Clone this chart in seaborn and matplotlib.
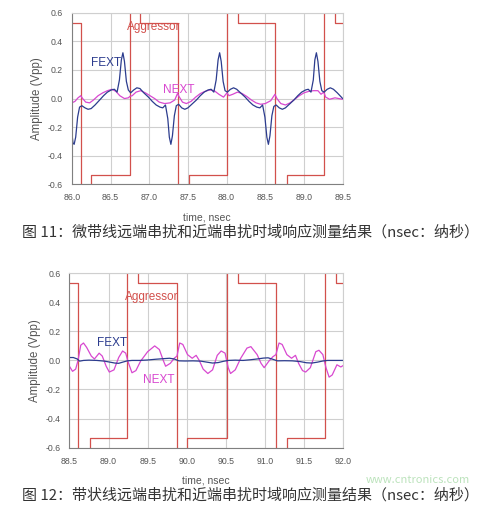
import matplotlib
matplotlib.use("Agg")
import matplotlib.pyplot as plt
import seaborn as sns
from matplotlib.ticker import MultipleLocator, FormatStrFormatter

# --- colours / fonts ---
RED = "#d2504c"
NAVY = "#2c3c8e"
MAGENTA = "#d848d0"
GRID = "#cfcfcf"
TXT = "#555555"
CJK = ["Noto Sans CJK SC", "DejaVu Sans"]

# ---------------- Fig 11 : microstrip ----------------
agg1_time = [86.0, 86.125, 86.125, 86.25, 86.25, 86.75, 86.75, 86.88, 86.88,
             87.37, 87.37, 87.51, 87.51, 88.01, 88.01, 88.15, 88.15,
             88.63, 88.63, 88.78, 88.78, 89.26, 89.26, 89.40, 89.40, 89.5]
agg1_amp = [0.53, 0.53, -0.9, -0.9, -0.535, -0.535, 0.9, 0.9, 0.53,
            0.53, -0.9, -0.9, -0.535, -0.535, 0.9, 0.9, 0.53,
            0.53, -0.9, -0.9, -0.535, -0.535, 0.9, 0.9, 0.53, 0.53]

fext1_time = [86.00, 86.015, 86.03, 86.05, 86.075, 86.10, 86.13, 86.17, 86.21, 86.25,
              86.30, 86.36, 86.41, 86.46, 86.51, 86.55, 86.585, 86.615, 86.64, 86.66,
              86.68, 86.705, 86.73, 86.76, 86.80, 86.84, 86.88, 86.93, 86.99, 87.04,
              87.09, 87.14, 87.175, 87.21, 87.24, 87.26, 87.28, 87.30, 87.325, 87.35,
              87.38, 87.42, 87.46, 87.50, 87.55, 87.61, 87.66, 87.71, 87.76, 87.80,
              87.835, 87.865, 87.89, 87.91, 87.93, 87.955, 87.98, 88.01, 88.05, 88.09,
              88.13, 88.18, 88.24, 88.29, 88.34, 88.39, 88.43, 88.465, 88.495, 88.52,
              88.54, 88.56, 88.585, 88.61, 88.64, 88.68, 88.72, 88.76, 88.81, 88.87,
              88.92, 88.97, 89.02, 89.055, 89.09, 89.12, 89.14, 89.16, 89.18, 89.205,
              89.23, 89.26, 89.30, 89.34, 89.38, 89.43, 89.50]
fext1_amp = [-0.24, -0.31, -0.32, -0.27, -0.13, -0.06, -0.05, -0.065, -0.075, -0.07,
             -0.045, -0.01, 0.02, 0.045, 0.06, 0.065, 0.045, 0.13, 0.27, 0.32,
             0.26, 0.12, 0.06, 0.04, 0.06, 0.075, 0.07, 0.04, 0.01, -0.02,
             -0.045, -0.06, -0.065, -0.045, -0.14, -0.27, -0.32, -0.26, -0.12, -0.05,
             -0.04, -0.065, -0.075, -0.065, -0.04, -0.01, 0.02, 0.045, 0.06, 0.065,
             0.045, 0.13, 0.27, 0.32, 0.26, 0.12, 0.055, 0.045, 0.065, 0.075,
             0.065, 0.04, 0.01, -0.02, -0.045, -0.06, -0.065, -0.045, -0.13, -0.27,
             -0.32, -0.26, -0.12, -0.055, -0.045, -0.065, -0.075, -0.065, -0.04, -0.01,
             0.02, 0.045, 0.06, 0.065, 0.045, 0.13, 0.27, 0.32, 0.26, 0.12,
             0.055, 0.045, 0.065, 0.075, 0.065, 0.04, 0.0]

next1_time = [86.00, 86.04, 86.08, 86.115, 86.14, 86.18, 86.23, 86.28, 86.34, 86.40,
              86.46, 86.52, 86.57, 86.62, 86.68, 86.73, 86.75, 86.78, 86.83, 86.89,
              86.95, 87.01, 87.07, 87.13, 87.20, 87.27, 87.33, 87.365, 87.39, 87.43,
              87.48, 87.54, 87.60, 87.66, 87.72, 87.78, 87.84, 87.90, 87.96, 88.005,
              88.03, 88.08, 88.14, 88.20, 88.26, 88.32, 88.38, 88.44, 88.50, 88.57,
              88.625, 88.65, 88.70, 88.76, 88.82, 88.88, 88.94, 89.00, 89.06, 89.12,
              89.18, 89.22, 89.255, 89.28, 89.33, 89.40, 89.45, 89.50]
next1_amp = [-0.03, -0.02, 0.005, 0.02, 0.0, -0.025, -0.03, -0.01, 0.02, 0.04,
             0.055, 0.065, 0.05, 0.02, 0.0, 0.005, 0.015, 0.02, 0.045, 0.055,
             0.04, 0.02, 0.0, -0.025, -0.035, -0.03, -0.01, 0.035, 0.01, -0.025,
             -0.035, -0.02, 0.01, 0.035, 0.05, 0.06, 0.055, 0.03, 0.01, 0.04,
             0.02, 0.03, 0.045, 0.035, 0.015, -0.01, -0.03, -0.04, -0.035, -0.015,
             0.03, 0.0, -0.035, -0.045, -0.03, -0.005, 0.02, 0.04, 0.05, 0.055,
             0.055, 0.03, 0.045, 0.01, -0.005, 0.005, 0.0, -0.005]

# ---------------- Fig 12 : stripline ----------------
agg2_time = [88.5, 88.61, 88.61, 88.76, 88.76, 89.235, 89.235, 89.38, 89.38,
             89.875, 89.875, 90.0, 90.0, 90.51, 90.51, 90.65, 90.65,
             91.14, 91.14, 91.28, 91.28, 91.77, 91.77, 91.91, 91.91, 92.0]
agg2_amp = [0.53, 0.53, -0.9, -0.9, -0.535, -0.535, 0.9, 0.9, 0.53,
            0.53, -0.9, -0.9, -0.535, -0.535, 0.9, 0.9, 0.53,
            0.53, -0.9, -0.9, -0.535, -0.535, 0.9, 0.9, 0.53, 0.53]

fext2_time = [88.50, 88.55, 88.60, 88.63, 88.68, 88.75, 88.85, 88.95, 89.02, 89.08,
              89.13, 89.18, 89.24, 89.30, 89.40, 89.50, 89.60, 89.70, 89.78, 89.84,
              89.90, 89.98, 90.08, 90.18, 90.26, 90.33, 90.40, 90.47, 90.53, 90.62,
              90.72, 90.82, 90.90, 90.98, 91.04, 91.10, 91.16, 91.25, 91.35, 91.45,
              91.53, 91.60, 91.67, 91.74, 91.80, 91.90, 92.00]
fext2_amp = [0.02, 0.02, 0.01, -0.005, 0.0, 0.002, 0.0, -0.005, -0.012, -0.018,
             -0.02, -0.012, -0.003, 0.0, 0.0, 0.003, 0.008, 0.012, 0.015, 0.01,
             -0.003, -0.004, -0.003, -0.005, -0.012, -0.018, -0.015, -0.006, 0.0, 0.002,
             0.0, 0.005, 0.01, 0.016, 0.018, 0.008, -0.003, -0.002, -0.003, -0.008,
             -0.016, -0.018, -0.012, -0.004, 0.0, 0.0, 0.0]

next2_time = [88.50, 88.54, 88.58, 88.61, 88.645, 88.68, 88.72, 88.78, 88.82, 88.88,
              88.92, 88.97, 89.01, 89.07, 89.13, 89.18, 89.22, 89.25, 89.30, 89.35,
              89.41, 89.50, 89.59, 89.65, 89.70, 89.73, 89.79, 89.84, 89.875, 89.91,
              89.95, 90.01, 90.07, 90.12, 90.16, 90.21, 90.27, 90.33, 90.39, 90.44,
              90.49, 90.53, 90.56, 90.62, 90.69, 90.77, 90.82, 90.90, 90.95, 90.99,
              91.05, 91.10, 91.14, 91.18, 91.22, 91.28, 91.34, 91.39, 91.43, 91.48,
              91.52, 91.58, 91.65, 91.69, 91.74, 91.78, 91.82, 91.86, 91.92, 91.97, 92.00]
next2_amp = [-0.04, -0.075, -0.06, 0.0, 0.105, 0.12, 0.09, 0.03, 0.01, 0.05,
             0.03, -0.04, -0.08, -0.065, 0.02, 0.065, 0.05, -0.01, -0.085, -0.07,
             -0.005, 0.06, 0.10, 0.075, 0.0, -0.04, -0.02, 0.015, 0.03, 0.12,
             0.11, 0.04, 0.015, 0.035, 0.0, -0.06, -0.09, -0.065, 0.035, 0.065,
             0.05, -0.05, -0.09, -0.065, 0.015, 0.085, 0.095, 0.04, -0.02, -0.05,
             -0.005, 0.025, 0.04, 0.12, 0.11, 0.04, 0.015, 0.035, -0.02, -0.07,
             -0.08, -0.05, 0.06, 0.07, 0.04, -0.05, -0.115, -0.1, -0.03, -0.045, -0.035]

y_ticks = [-0.6, -0.4, -0.2, 0.0, 0.2, 0.4, 0.6]
caption1 = "图 11：微带线远端串扰和近端串扰时域响应测量结果（nsec：纳秒）"
caption2 = "图 12：带状线远端串扰和近端串扰时域响应测量结果（nsec：纳秒）"


def draw_panel(ax, agg, fext, nxt, xlim, labels):
    for (t, v), col in zip([agg, nxt, fext], [RED, MAGENTA, NAVY]):
        sns.lineplot(x=t, y=v, ax=ax, estimator=None, sort=False,
                     color=col, linewidth=0.9)
    ax.set_xlim(*xlim)
    ax.set_ylim(-0.6, 0.6)
    ax.xaxis.set_major_locator(MultipleLocator(0.5))
    ax.xaxis.set_minor_locator(MultipleLocator(0.1))
    ax.xaxis.set_major_formatter(FormatStrFormatter("%.1f"))
    ax.set_yticks(y_ticks)
    ax.yaxis.set_minor_locator(MultipleLocator(0.1))
    ax.yaxis.set_major_formatter(FormatStrFormatter("%.1f"))
    ax.grid(True, which="major", color=GRID, linewidth=0.8)
    ax.tick_params(which="both", direction="out", colors="#777777",
                   labelcolor=TXT, labelsize=6.3, width=0.6)
    ax.tick_params(which="major", length=3)
    ax.tick_params(which="minor", length=2.5)
    for side in ["left", "bottom"]:
        ax.spines[side].set_color("#808080")
        ax.spines[side].set_linewidth(0.8)
    for side in ["top", "right"]:
        ax.spines[side].set_visible(True)
        ax.spines[side].set_color(GRID)
        ax.spines[side].set_linewidth(0.8)
    ax.set_xlabel("time, nsec", fontsize=7.5, color=TXT, labelpad=7)
    ax.set_ylabel("Amplitude (Vpp)", fontsize=8.3, color=TXT, labelpad=3)
    for txt, x, y, col in labels:
        ax.text(x, y, txt, color=col, fontsize=8.5, ha="center", va="center")


sns.set_style("white")
plt.rcParams["font.family"] = ["Liberation Sans", "DejaVu Sans"]
plt.rcParams["axes.unicode_minus"] = False

fig = plt.figure(figsize=(4.82, 5.08), dpi=100)
ax1 = fig.add_axes([0.149, 0.637, 0.562, 0.338])
ax2 = fig.add_axes([0.144, 0.119, 0.568, 0.343])

draw_panel(ax1, (agg1_time, agg1_amp), (fext1_time, fext1_amp), (next1_time, next1_amp),
           (86.0, 89.5),
           [("Aggressor", 87.06, 0.50, RED), ("FEXT", 86.44, 0.25, NAVY),
            ("NEXT", 87.38, 0.06, MAGENTA)])
draw_panel(ax2, (agg2_time, agg2_amp), (fext2_time, fext2_amp), (next2_time, next2_amp),
           (88.5, 92.0),
           [("Aggressor", 89.55, 0.44, RED), ("FEXT", 89.05, 0.118, NAVY),
            ("NEXT", 89.64, -0.134, MAGENTA)])

fig.text(0.975, 0.055, "www.cntronics.com", color="#8fd08f", alpha=0.6,
         fontsize=8, va="center", ha="right", family=CJK)
fig.text(0.045, 0.543, caption1, fontsize=10.8, color="#333333", va="center", family=CJK)
fig.text(0.045, 0.026, caption2, fontsize=10.8, color="#333333", va="center", family=CJK)

fig.savefig("out.png", dpi=100)
